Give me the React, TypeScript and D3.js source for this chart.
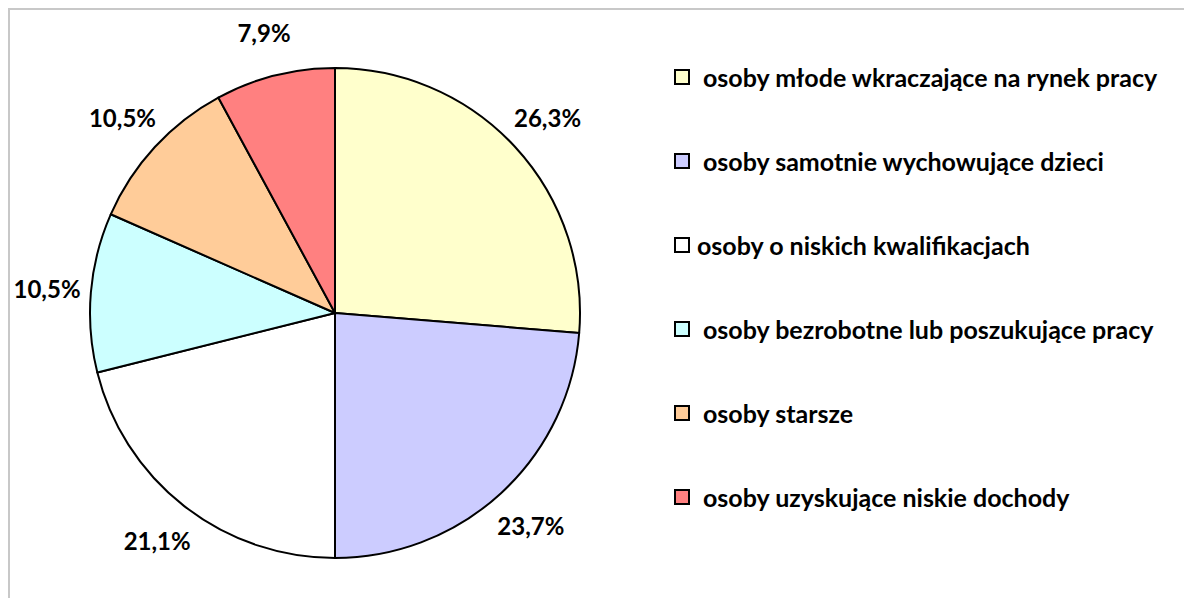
import * as d3 from "d3";
import React from "react";

const categories = [
  "osoby młode wkraczające na rynek pracy",
  "osoby samotnie wychowujące dzieci",
  "osoby o niskich kwalifikacjach",
  "osoby bezrobotne lub poszukujące pracy",
  "osoby starsze",
  "osoby uzyskujące niskie dochody",
];
const values = [26.3, 23.7, 21.1, 10.5, 10.5, 7.9];
const valueLabels = ["26,3%", "23,7%", "21,1%", "10,5%", "10,5%", "7,9%"];
const colors = ["#FFFFCC", "#CCCCFF", "#FFFFFF", "#CCFFFF", "#FFCC99", "#FF8080"];

const width = 1184;
const height = 598;
const cx = 335;
const cy = 313;
const radius = 245;
const font = "Lato, 'Open Sans', sans-serif";

const pieGen = d3.pie<number>().value((d) => d).sort(null);
const sliceArc = d3.arc<d3.PieArcDatum<number>>().innerRadius(0).outerRadius(radius);
const labelArc = d3
  .arc<d3.PieArcDatum<number>>()
  .innerRadius(radius + 44)
  .outerRadius(radius + 44);

const legendY = d3.scalePoint<number>().domain(d3.range(categories.length)).range([77, 497]);

export default function App() {
  const arcs = pieGen(values);
  return (
    <svg
      width={width}
      height={height}
      style={{ position: "absolute", left: 0, top: 0, background: "#fff" }}
    >
      <rect x={9} y={9} width={width + 20} height={height + 20} fill="#fff" stroke="#c8c8c8" strokeWidth={2} />
      <g transform={`translate(${cx},${cy})`}>
        {arcs.map((a, i) => (
          <path key={i} d={sliceArc(a) ?? ""} fill={colors[i]} stroke="#000" strokeWidth={2} strokeLinejoin="round" />
        ))}
        {arcs.map((a, i) => {
          const [x, y] = labelArc.centroid(a);
          return (
            <text
              key={"l" + i}
              x={x}
              y={y}
              textAnchor="middle"
              dominantBaseline="central"
              fontFamily={font}
              fontWeight="bold"
              fontSize={24}
              fill="#000"
            >
              {valueLabels[i]}
            </text>
          );
        })}
      </g>
      <g>
        {categories.map((c, i) => {
          const y = legendY(i) ?? 0;
          return (
            <g key={"g" + i}>
              <rect x={675} y={y - 7} width={14} height={14} fill={colors[i]} stroke="#000" strokeWidth={2} />
              <text
                x={i === 2 ? 697 : 703}
                y={y}
                dominantBaseline="central"
                fontFamily={font}
                fontWeight="bold"
                fontSize={25}
                fill="#000"
              >
                {c}
              </text>
            </g>
          );
        })}
      </g>
    </svg>
  );
}
